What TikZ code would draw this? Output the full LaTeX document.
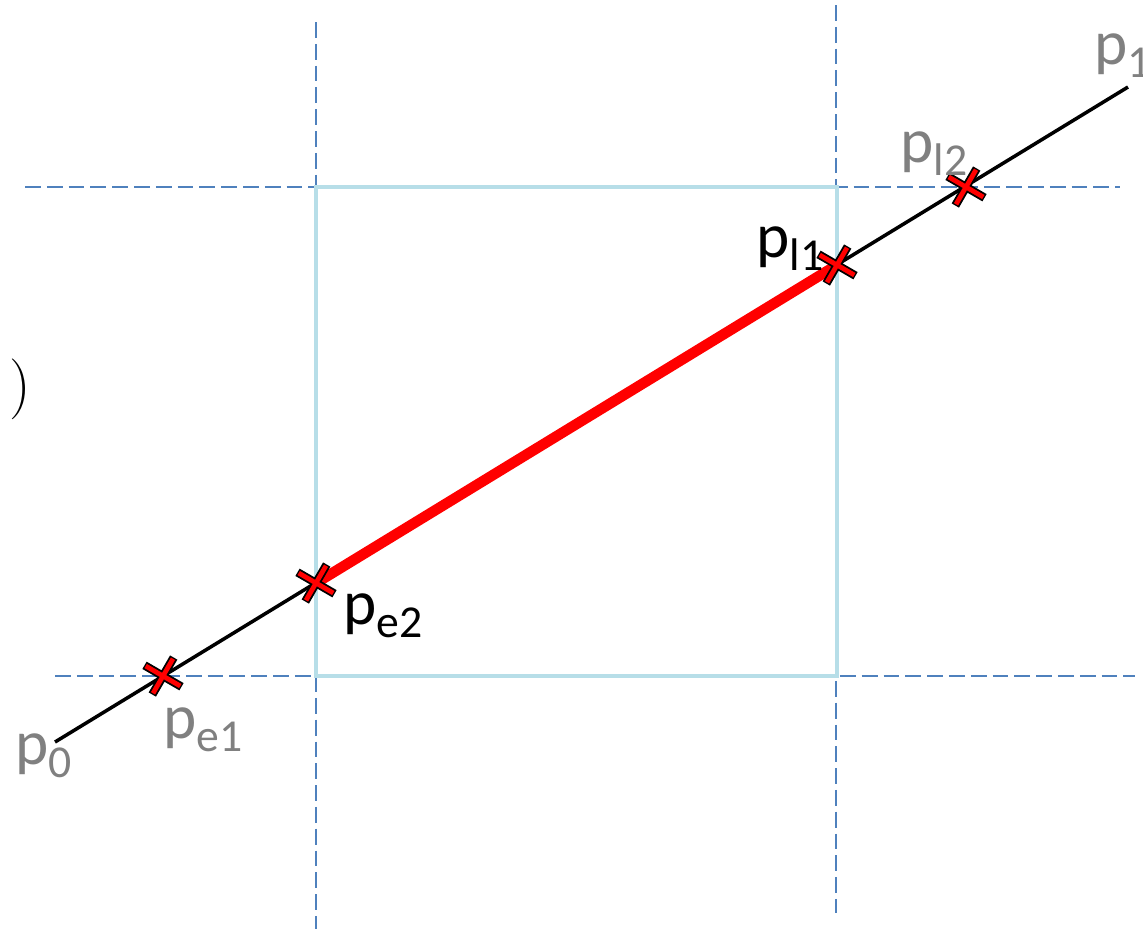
\documentclass[tikz,border=0pt]{standalone}
\usepackage{fontspec}
\setmainfont{Carlito}
\definecolor{guideblue}{RGB}{79,129,189}
\definecolor{boxblue}{RGB}{183,222,232}
\newcommand{\plbl}[1]{p\raisebox{-3.8pt}{\fontsize{13}{14}\selectfont #1}}

\begin{document}
\begin{tikzpicture}[x=.01cm,y=-.01cm,
  guide/.style={guideblue,line width=.57pt,dash pattern=on 4.5pt off 1.7pt},
  plabel/.style={anchor=base west,inner sep=0pt,font=\fontsize{18}{20}\selectfont},
  xmark/.pic={
    \draw[black,line width=2.4pt] (-18.5,-10.7)--(18.5,10.7) (-10.7,18.5)--(10.7,-18.5);
    \draw[red,line width=1.35pt] (-17.3,-10)--(17.3,10) (-10,17.3)--(10,-17.3);
  }]
\path[use as bounding box] (0,0) rectangle (1143,929);
% guide lines
\draw[guide] (25,187)--(1120,187);
\draw[guide] (55,676)--(1135,676);
\draw[guide] (316,22)--(316,929);
\draw[guide] (836,5)--(836,913);
\draw[boxblue,line width=1.14pt] (316,187) rectangle (837,676);
% points on the segment
\coordinate (p0) at (55,742);
\coordinate (p1) at (1128,87);
\coordinate (pe1) at (163,676);
\coordinate (pe2) at (316,583);
\coordinate (pl1) at (837,265);
\coordinate (pl2) at (966,187);
\draw[line width=1pt] (p0)--(p1);
\draw[red,line width=3pt] (pe2)--(pl1);
\pic at (pe1) {xmark};
\pic at (pe2) {xmark};
\pic at (pl1) {xmark};
\pic at (pl2) {xmark};
% labels
\node[plabel,gray] (lblpzero) at (15,764) {\plbl{0}};
\node[plabel,gray] (lblpone) at (1094,64) {\plbl{1}};
\node[plabel,gray] (lblpeone) at (163,738) {\plbl{e1}};
\node[plabel] (lblpetwo) at (343,624) {\plbl{e2}};
\node[plabel] (lblplone) at (756,257) {\plbl{l1}};
\node[plabel,gray] (lblpltwo) at (900,162) {\plbl{l2}};
\node[anchor=base east,inner sep=0pt,font=\fontsize{16}{18}\selectfont] (paren) at (32,404) {$)$};
\end{tikzpicture}
\end{document}
